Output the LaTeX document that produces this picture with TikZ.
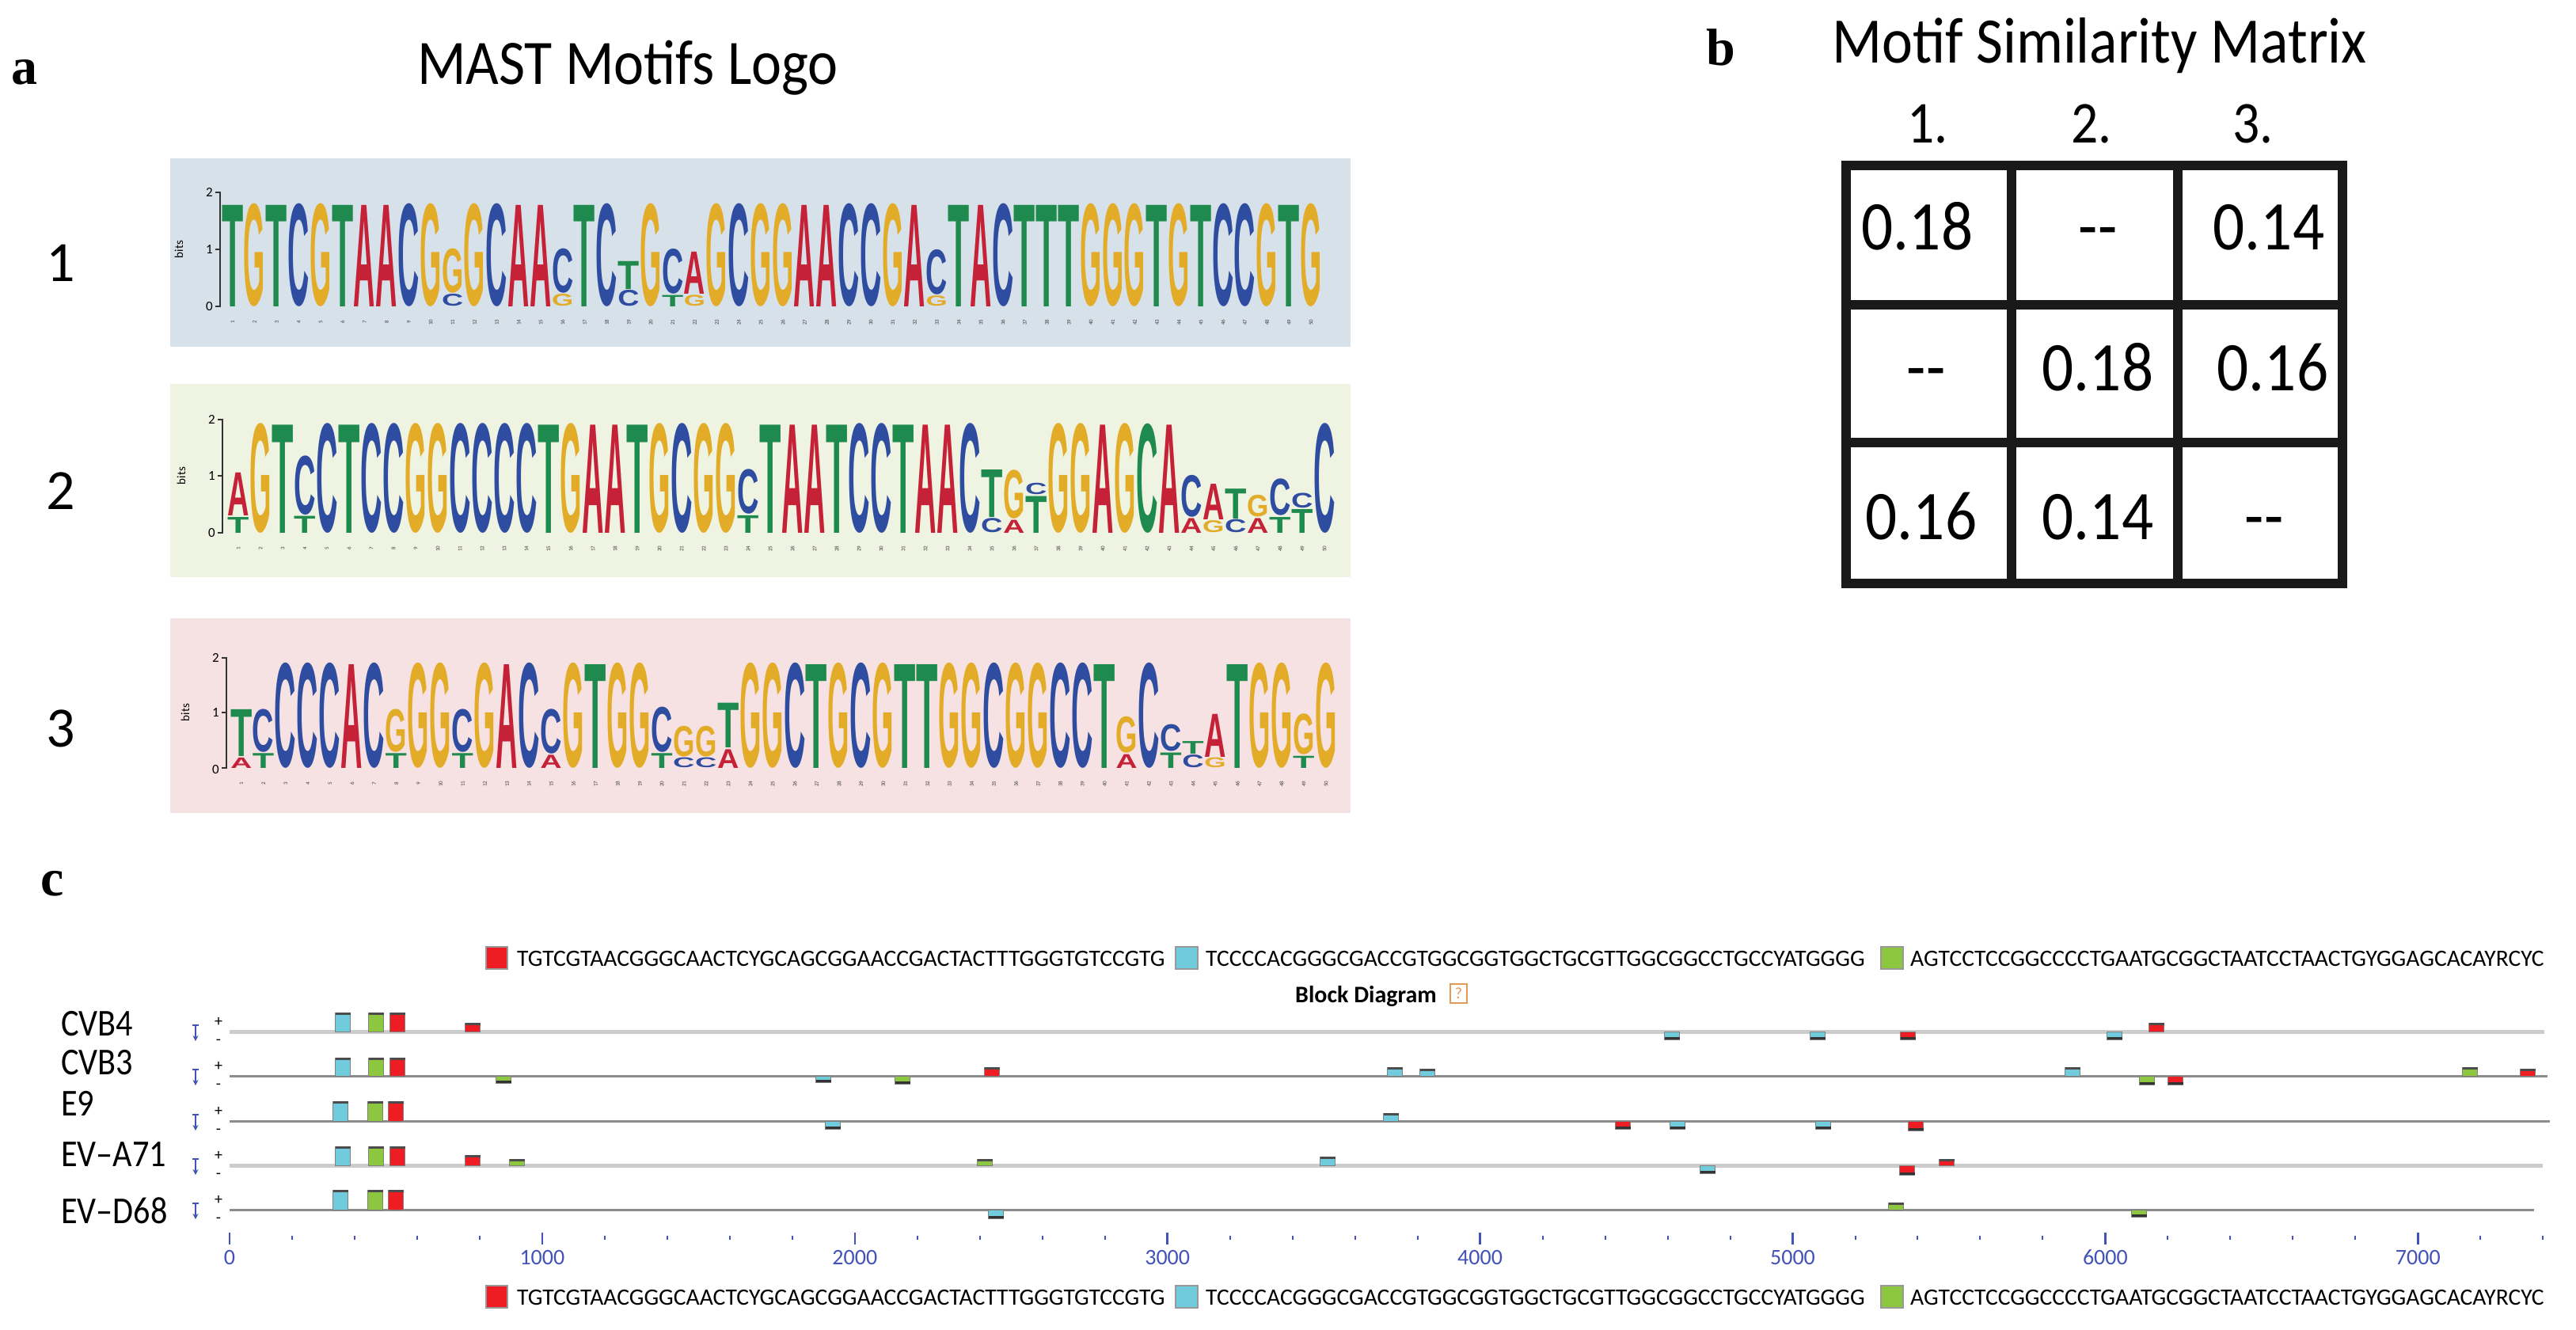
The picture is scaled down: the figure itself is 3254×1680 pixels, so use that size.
\documentclass[tikz,border=0pt]{standalone}
\usepackage{fontspec}
\usepackage{graphicx}
\usetikzlibrary{arrows.meta}
\setmainfont{Carlito}
\newfontfamily\ttlfont{Carlito}[FakeStretch=0.9]
\newfontfamily\labfont{Liberation Serif}
\newfontfamily\logofont{Liberation Sans}
\newfontfamily\namefont{Carlito}[FakeStretch=0.88]
\definecolor{lA}{HTML}{C62237}
\definecolor{lC}{HTML}{2F4DA0}
\definecolor{lG}{HTML}{E3AC28}
\definecolor{lT}{HTML}{1F8A4D}
\definecolor{bgone}{HTML}{D7E1EA}
\definecolor{bgtwo}{HTML}{EFF3E2}
\definecolor{bgthree}{HTML}{F6E2E2}
\definecolor{mred}{HTML}{EE1D23}
\definecolor{mcyan}{HTML}{70CCDD}
\definecolor{mgreen}{HTML}{8DC63F}
\definecolor{axblue}{HTML}{4352B8}
\definecolor{qorange}{HTML}{E39A55}
\newcount\lcnt
\newcommand\SetLogo[4]{\gdef\Lx{#1}\gdef\Ly{#2}\gdef\Lw{#3}\gdef\Lb{#4}}
\newcommand\Stack[2]{%
  \pgfmathsetmacro\sx{\Lx+(#1-1)*\Lw}%
  \pgfmathsetmacro\lwid{\Lw-0.6}%
  \xdef\cury{\Ly}%
  \foreach \lch/\lhh in {#2}{%
    \pgfmathsetmacro\hpx{\lhh*\Lb}%
    \pgfmathsetmacro\lhgt{\hpx-1.5}%
    \global\advance\lcnt by 1
    \node[lett] (lt\the\lcnt) at (\sx,\cury) {\resizebox{\lwid pt}{\lhgt pt}{\color{l\lch}\logofont\bfseries\lch}};%
    \pgfmathsetmacro\ny{\cury-\hpx}%
    \xdef\cury{\ny}%
  }}
\newcommand\FullCols[2]{% #1 height, #2 list col/letter
  \foreach \i/\c in {#2}{\edef\mytmp{\noexpand\Stack{\i}{\c/#1}}\mytmp}}
\newcommand\PosTicks[1]{%
  \foreach \i in {1,...,50}{\node[ptick] (#1n\i) at ({\Lx+(\i-0.5)*\Lw},{\Ly+20}) {\i};}}
\newcommand\BlkP[4]{%
  \fill[#4] ({#1-9.5},#2) rectangle ({#1+9.5},{#2-#3});
  \draw[black!50,line width=0.8] ({#1-9.5},#2) rectangle ({#1+9.5},{#2-#3});
  \fill[black!70] ({#1-9.5},{#2-#3}) rectangle ({#1+9.5},{#2-#3+3});}
\newcommand\BlkM[4]{%
  \fill[#4] ({#1-9.5},#2) rectangle ({#1+9.5},{#2+#3});
  \draw[black!50,line width=0.8] ({#1-9.5},#2) rectangle ({#1+9.5},{#2+#3});
  \fill[black!80] ({#1-9.5},{#2+#3-3}) rectangle ({#1+9.5},{#2+#3});}
\newcommand\Strand[2]{% #1 name, #2 line y
  \draw[axblue,line width=1.5] (243,{#2-8}) -- (251,{#2-8});
  \draw[axblue,line width=1.5,-{Stealth[length=7pt,width=7pt]}] (247,{#2-8}) -- (247,{#2+12});
  \node[strand] (#1p) at (276,{#2-12}) {+};
  \node[strand] (#1m) at (276,{#2+13}) {-};}
\begin{document}
\begin{tikzpicture}[x=1pt,y=-1pt,
  lett/.style={inner sep=0pt,outer sep=0pt,anchor=south west},
  ptick/.style={inner sep=0pt,font=\fontsize{7}{7}\selectfont,text=black!75,rotate=90},
  axnum/.style={inner sep=0pt,anchor=east,font=\fontsize{17}{17}\selectfont},
  bitslab/.style={inner sep=0pt,rotate=90,font=\fontsize{15}{15}\selectfont},
  panlab/.style={inner sep=0pt,anchor=base,font=\labfont\bfseries\fontsize{66}{66}\selectfont},
  rownum/.style={inner sep=0pt,anchor=base,font=\fontsize{72}{72}\selectfont},
  ttl/.style={inner sep=0pt,anchor=base,font=\ttlfont\fontsize{80}{80}\selectfont},
  cell/.style={inner sep=0pt,anchor=base,font=\ttlfont\fontsize{88}{88}\selectfont},
  hdr/.style={inner sep=0pt,anchor=base,font=\ttlfont\fontsize{75}{75}\selectfont},
  seqname/.style={inner sep=0pt,anchor=base west,font=\namefont\fontsize{48}{48}\selectfont},
  legtxt/.style={inner sep=0pt,anchor=base west,font=\fontsize{29.6}{29.6}\selectfont},
  strand/.style={inner sep=0pt,font=\fontsize{20}{20}\selectfont},
  axlab/.style={inner sep=0pt,text=axblue,font=\fontsize{28}{28}\selectfont},
  rowlight/.style={black!20,line width=5},
  rowdark/.style={black!45,line width=3},
  gridline/.style={black!90,line width=12}]
\useasboundingbox (0,0) rectangle (3254,1680);
\fill[white] (0,0) rectangle (3254,1680);

% ---------------- panel a ----------------
\node[panlab] (la) at (31,107) {a};
\node[ttl] (tA) at (793,107) {MAST Motifs Logo};
\node[rownum] (n1) at (77,355) {1};
\node[rownum] (n2) at (77,643) {2};
\node[rownum] (n3) at (77,943) {3};

\fill[bgone] (215,200) rectangle (1706,438);
\fill[bgtwo] (215,485) rectangle (1706,729);
\fill[bgthree] (215,781) rectangle (1706,1027);

% axes
\draw[black!80,line width=1.5] (272,243) -- (278,243) -- (278,387) -- (272,387);
\draw[black!80,line width=1.5] (272,315) -- (278,315);
\node[axnum] (y12) at (269,243) {2};
\node[axnum] (y11) at (269,315) {1};
\node[axnum] (y10) at (269,387) {0};
\node[bitslab] (b1) at (226,315) {bits};

\draw[black!80,line width=1.5] (275,530) -- (281,530) -- (281,673) -- (275,673);
\draw[black!80,line width=1.5] (275,601) -- (281,601);
\node[axnum] (y22) at (272,530) {2};
\node[axnum] (y21) at (272,601) {1};
\node[axnum] (y20) at (272,673) {0};
\node[bitslab] (b2) at (229,601) {bits};

\draw[black!80,line width=1.5] (280,831) -- (286,831) -- (286,970) -- (280,970);
\draw[black!80,line width=1.5] (280,900) -- (286,900);
\node[axnum] (y32) at (277,831) {2};
\node[axnum] (y31) at (277,900) {1};
\node[axnum] (y30) at (277,972) {0};
\node[bitslab] (b3) at (234,900) {bits};

% logo 1
\SetLogo{280}{387}{27.8}{72}
\FullCols{1.8}{1/T,2/G,3/T,4/C,5/G,6/T,7/A,8/A,9/C,10/G,12/G,13/C,14/A,15/A,17/T,18/C,20/G,23/G,24/C,25/G,26/G,27/A,28/A,29/C,30/C,31/G,32/A,34/T,35/A,36/C,37/T,38/T,39/T,40/G,41/G,42/G,43/T,44/G,45/T,46/C,47/C,48/G,49/T,50/G}
\Stack{11}{C/0.23,G/0.79}
\Stack{16}{G/0.23,C/0.79}
\Stack{19}{C/0.3,T/0.51}
\Stack{21}{T/0.22,C/0.8}
\Stack{22}{G/0.21,A/0.76}
\Stack{33}{G/0.2,C/0.8}
\PosTicks{pa}

% logo 2
\SetLogo{287}{673}{28}{71.5}
\FullCols{1.93}{2/G,3/T,5/C,6/T,7/C,8/C,9/G,10/G,11/C,12/C,13/C,14/C,15/T,16/G,17/A,18/A,19/T,20/G,21/C,22/G,23/G,25/T,26/A,27/A,28/T,29/C,30/C,31/T,32/A,33/A,34/C,38/G,39/G,40/A,41/G,43/A,50/C}
\node[lett] (gc42) at (1435,673) {\resizebox{27.4pt}{136pt}{\color{lT}\logofont\bfseries C}};
\Stack{1}{T/0.3,A/0.78}
\Stack{4}{T/0.32,C/1.05}
\Stack{24}{T/0.33,C/0.8}
\Stack{35}{C/0.27,T/0.86}
\Stack{36}{A/0.25,G/0.87}
\Stack{37}{T/0.67,C/0.22}
\Stack{44}{A/0.28,C/0.75}
\Stack{45}{G/0.23,A/0.65}
\Stack{46}{C/0.25,T/0.55}
\Stack{47}{A/0.28,G/0.4}
\Stack{48}{T/0.3,C/0.66}
\Stack{49}{T/0.44,C/0.28}
\PosTicks{pb}

% logo 3
\SetLogo{291}{970}{27.96}{69.7}
\FullCols{1.9}{3/C,4/C,5/C,6/A,7/C,9/G,10/G,12/G,13/A,14/C,16/G,17/T,18/G,19/G,24/G,25/G,26/C,27/T,28/G,29/C,30/G,31/T,32/T,33/G,34/G,35/C,36/G,37/G,38/C,39/C,40/T,42/C,46/T,47/G,48/G,50/G}
\Stack{1}{A/0.21,T/0.87}
\Stack{2}{T/0.29,C/0.79}
\Stack{8}{T/0.29,G/0.79}
\Stack{11}{T/0.29,C/0.79}
\Stack{15}{A/0.26,C/0.82}
\Stack{20}{T/0.29,C/0.83}
\Stack{21}{C/0.2,G/0.57}
\Stack{22}{C/0.2,G/0.57}
\Stack{23}{A/0.36,T/0.83}
\Stack{41}{A/0.27,G/0.67}
\Stack{43}{T/0.3,C/0.5}
\Stack{44}{C/0.25,T/0.25}
\Stack{45}{G/0.2,A/0.8}
\Stack{49}{T/0.24,G/0.75}
\PosTicks{pc}

% ---------------- panel b ----------------
\node[panlab] (lb) at (2174,83) {b};
\node[ttl,font=\ttlfont\fontsize{82}{82}\selectfont] (tB) at (2652,80) {Motif Similarity Matrix};
\node[hdr] (h1) at (2435,181) {1.};
\node[hdr] (h2) at (2642,181) {2.};
\node[hdr] (h3) at (2846,181) {3.};
\draw[gridline] (2332,209) rectangle (2959,737);
\draw[gridline] (2541,209) -- (2541,737);
\draw[gridline] (2751,209) -- (2751,737);
\draw[gridline] (2332,385) -- (2959,385);
\draw[gridline] (2332,559) -- (2959,559);
\node[cell] (m11) at (2422,316) {0.18};
\node[cell] (m12) at (2650,316) {-{}-};
\node[cell] (m13) at (2866,316) {0.14};
\node[cell] (m21) at (2433,493) {-{}-};
\node[cell] (m22) at (2650,493) {0.18};
\node[cell] (m23) at (2871,493) {0.16};
\node[cell] (m31) at (2427,681) {0.16};
\node[cell] (m32) at (2650,681) {0.14};
\node[cell] (m33) at (2860,681) {-{}-};

% ---------------- panel c ----------------
\node[panlab] (lc) at (66,1131) {c};
% legends
\foreach \yy/\nm in {1210/lt,1638/lb}{
  \fill[mred] (614,{\yy-14}) rectangle (641,{\yy+14});
  \draw[black!40,line width=2] (614,{\yy-14}) rectangle (641,{\yy+14});
  \node[legtxt] (\nm r) at (653,{\yy+10}) {TGTCGTAACGGGCAACTCYGCAGCGGAACCGACTACTTTGGGTGTCCGTG};
  \fill[mcyan] (1485,{\yy-14}) rectangle (1513,{\yy+14});
  \draw[black!40,line width=2] (1485,{\yy-14}) rectangle (1513,{\yy+14});
  \node[legtxt] (\nm c) at (1523,{\yy+10}) {TCCCCACGGGCGACCGTGGCGGTGGCTGCGTTGGCGGCCTGCCYATGGGG};
  \fill[mgreen] (2376,{\yy-14}) rectangle (2404,{\yy+14});
  \draw[black!40,line width=2] (2376,{\yy-14}) rectangle (2404,{\yy+14});
  \node[legtxt] (\nm g) at (2413,{\yy+10}) {AGTCCTCCGGCCCCTGAATGCGGCTAATCCTAACTGYGGAGCACAYRCYC};
}
\node[inner sep=0pt,anchor=base west,font=\bfseries\fontsize{30}{30}\selectfont] (bd) at (1636,1266) {Block Diagram};
\draw[qorange,line width=1.5] (1832,1243) rectangle (1853,1267);
\node[inner sep=0pt,text=qorange,font=\fontsize{20}{20}\selectfont] (qm) at (1842.5,1255) {?};

% sequence names
\node[seqname] (s1) at (77,1308) {CVB4};
\node[seqname] (s2) at (77,1357) {CVB3};
\node[seqname] (s3) at (77,1409) {E9};
\node[seqname] (s4) at (77,1473) {EV–A71};
\node[seqname] (s5) at (77,1545) {EV–D68};

% sequence lines
\coordinate (r1s) at (290,1303); \coordinate (r1e) at (3214,1303);
\coordinate (r2s) at (290,1359); \coordinate (r2e) at (3218,1359);
\coordinate (r3s) at (290,1416); \coordinate (r3e) at (3221,1416);
\coordinate (r4s) at (290,1472); \coordinate (r4e) at (3212,1472);
\coordinate (r5s) at (290,1528); \coordinate (r5e) at (3201,1528);
\draw[rowlight] (r1s) -- (r1e);
\draw[rowdark] (r2s) -- (r2e);
\draw[rowdark] (r3s) -- (r3e);
\draw[rowlight] (r4s) -- (r4e);
\draw[rowdark] (r5s) -- (r5e);
\Strand{st1}{1303}
\Strand{st2}{1359}
\Strand{st3}{1416}
\Strand{st4}{1472}
\Strand{st5}{1528}

% blocks CVB4
\BlkP{433}{1303}{24}{mcyan}\BlkP{475}{1303}{24}{mgreen}\BlkP{502}{1303}{24}{mred}
\BlkP{597}{1303}{11}{mred}
\BlkM{2112}{1303}{10}{mcyan}\BlkM{2296}{1303}{10}{mcyan}\BlkM{2410}{1303}{10}{mred}
\BlkM{2671}{1303}{10}{mcyan}\BlkP{2724}{1303}{11}{mred}
% CVB3
\BlkP{433}{1359}{23}{mcyan}\BlkP{475}{1359}{23}{mgreen}\BlkP{502}{1359}{23}{mred}
\BlkM{636}{1359}{9}{mgreen}\BlkM{1040}{1359}{8}{mcyan}\BlkM{1140}{1359}{10}{mgreen}
\BlkP{1253}{1359}{11}{mred}\BlkP{1762}{1359}{11}{mcyan}\BlkP{1803}{1359}{9}{mcyan}
\BlkP{2618}{1359}{11}{mcyan}\BlkM{2712}{1359}{11}{mgreen}\BlkM{2748}{1359}{11}{mred}
\BlkP{3120}{1359}{11}{mgreen}\BlkP{3193}{1359}{9}{mred}
% E9
\BlkP{430}{1416}{25}{mcyan}\BlkP{474}{1416}{25}{mgreen}\BlkP{500}{1416}{25}{mred}
\BlkM{1052}{1416}{10}{mcyan}\BlkP{1757}{1416}{10}{mcyan}\BlkM{2050}{1416}{10}{mred}
\BlkM{2119}{1416}{10}{mcyan}\BlkM{2303}{1416}{10}{mcyan}\BlkM{2420}{1416}{12}{mred}
% EV-A71
\BlkP{433}{1472}{24}{mcyan}\BlkP{475}{1472}{24}{mgreen}\BlkP{502}{1472}{24}{mred}
\BlkP{597}{1472}{13}{mred}\BlkP{653}{1472}{8}{mgreen}\BlkP{1244}{1472}{8}{mgreen}
\BlkP{1677}{1472}{11}{mcyan}\BlkM{2157}{1472}{10}{mcyan}\BlkM{2409}{1472}{12}{mred}
\BlkP{2459}{1472}{8}{mred}
% EV-D68
\BlkP{430}{1528}{25}{mcyan}\BlkP{474}{1528}{25}{mgreen}\BlkP{500}{1528}{25}{mred}
\BlkM{1258}{1528}{11}{mcyan}\BlkP{2395}{1528}{9}{mgreen}\BlkM{2702}{1528}{9}{mgreen}

% axis
\foreach \k in {0,...,37}{%
  \pgfmathsetmacro\tx{290+\k*78.98}%
  \pgfmathtruncatemacro\isM{mod(\k,5)}%
  \ifnum\isM=0 \draw[axblue,line width=2.5] (\tx,1557) -- (\tx,1572);
  \else \draw[axblue,line width=2] (\tx,1561) -- (\tx,1566); \fi}
\foreach \v/\t in {0/0,1/1000,2/2000,3/3000,4/4000,5/5000,6/6000,7/7000}{%
  \node[axlab] (ax\v) at ({290+\v*394.9},1588) {\t};}
\end{tikzpicture}
\end{document}
